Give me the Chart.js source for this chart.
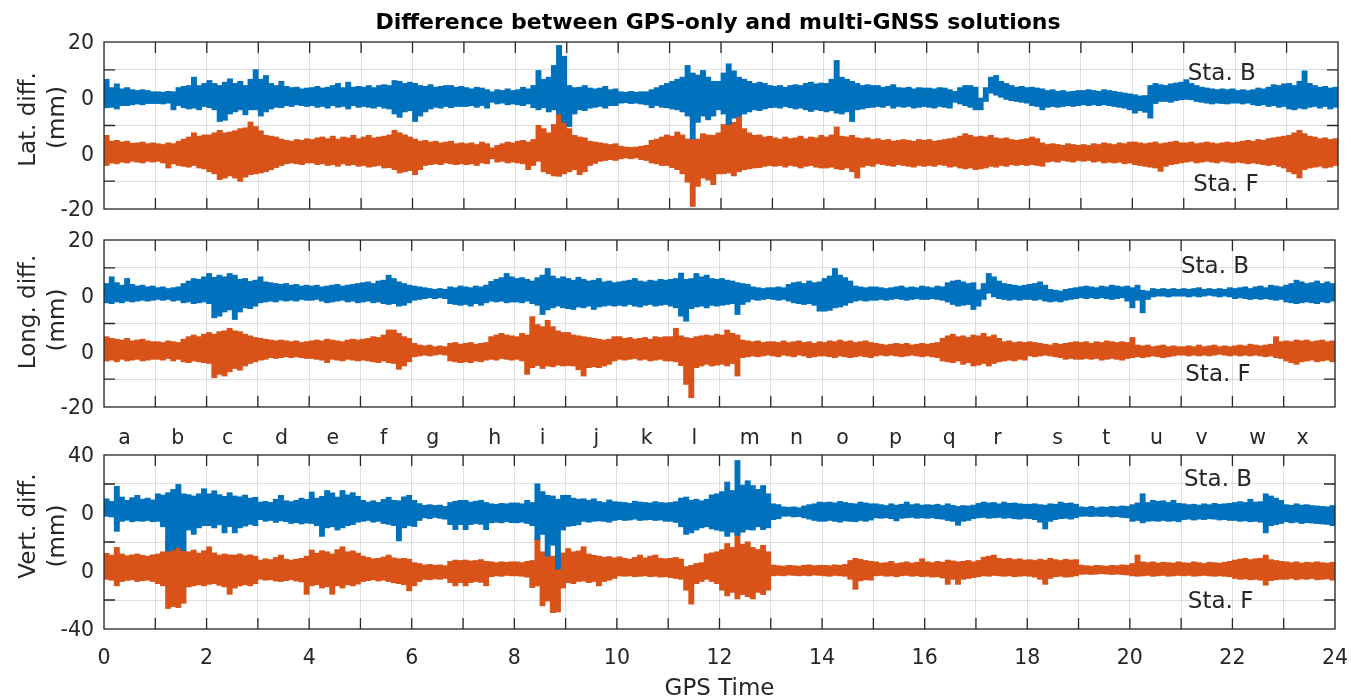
<!DOCTYPE html>
<html><head><meta charset="utf-8">
<script src="https://cdn.jsdelivr.net/npm/chart.js@4.4.1/dist/chart.umd.min.js"></script>
<style>
html,body{margin:0;padding:0;background:#fff;width:1351px;height:699px;overflow:hidden;position:relative}
canvas{position:absolute;left:0}
</style></head><body>
<canvas id="c1" width="1351" height="230" style="top:0px;width:1351px;height:230px"></canvas>
<canvas id="c2" width="1351" height="235" style="top:220px;width:1351px;height:235px"></canvas>
<canvas id="c3" width="1351" height="259" style="top:440px;width:1351px;height:259px"></canvas>
<script>
// ---------------- DATA (mm, upper / lower envelope per 0.1 h bin, hours 0..24) ----------------
const binHours = 0.1;
const letters = ['a','b','c','d','e','f','g','h','i','j','k','l','m','n','o','p','q','r','s','t','u','v','w','x'];
const letterPos = [0.40,1.44,2.41,3.46,4.46,5.45,6.41,7.62,8.55,9.60,10.58,11.51,12.59,13.50,14.40,15.43,16.48,17.42,18.59,19.54,20.52,21.40,22.49,23.37];
const xTickLabels = ['0','2','4','6','8','10','12','14','16','18','20','22','24'];
const latTickLabels = ['20','0','0','-20'];
const lonTickLabels = ['20','0','0','-20'];
const vertTickLabels = ['40','0','0','-40'];

const latB_hi = [
4.5,2.5,3.4,2.2,2.5,2,1.8,2,1.8,1.5,
1.5,1.4,1.6,1.5,2.5,2.8,3,5,3,3.5,
4.2,3.5,3,3.8,4.6,3.5,4,3,4.5,6.8,
4.5,5.4,3.5,3,4,2.8,2.5,2.6,2.2,2.4,
2.5,2.8,2.4,2.6,3,3.5,2.5,3.8,2.6,2.8,
2.6,3,2.5,3,3.2,3,4.2,4,3.5,3.8,
3.5,3,2.8,3.2,2.6,2.8,3,3,2.6,2.8,
2.5,2.2,2.6,2.4,2,1.5,2,1.8,2.2,1.8,
2,2.6,2.2,3,6.6,4.5,5,7.8,12.6,10,
3,2.5,2.6,3,2.4,2.2,2.4,2.8,2,2.2,
1.5,1.4,1.6,1.4,1.5,1.5,2,2.5,3,3.5,
4,4.5,5,7.8,6,5.5,6.6,5,4,4,
6,8.2,6.5,5,4.5,4,3.5,3.8,3.5,3,
2.8,3,2.6,3,3.2,3,3.5,3.8,3.4,3.6,
3.5,4.5,9,5,4.5,4,3.5,3,3.2,3,
3,2.6,2.8,3.2,2.5,2.4,2.6,2.2,2.5,2.4,
2.4,2.2,2.5,2.4,2,1.6,2.5,3,3,2.6,
0,2.5,5,5.4,4,3.5,3,2.6,2.8,2.5,
2.6,2.4,2.2,1.8,2,1.6,1.8,1.5,1.6,1.8,
1.8,2,1.8,1.6,2,1.8,1.6,1.4,1.2,1,
0.8,0.5,0.6,3,3.5,3.2,3,3.4,3.6,3.8,
4.4,3.5,3,2.6,2.4,2.2,2,2.2,2,2.2,
1.8,2,1.8,2,2.4,2.2,2.6,3.2,3,3.4,
3.5,3,4,6.5,3.5,3,2.6,2.8,2.4,2.6];
const latB_lo = [
-2.5,-2.4,-2.8,-2,-2,-1.8,-1.6,-1.8,-1.5,-1.5,
-1.5,-1.6,-1.4,-3,-2,-2.5,-2.8,-2.6,-3,-2.2,
-2.5,-3,-5.8,-5.5,-4,-3.5,-3,-4.2,-3,-3,
-4.5,-3.5,-2.8,-2.4,-2.5,-2,-2.2,-1.8,-2,-2.2,
-2,-2.4,-2.2,-2.6,-2,-2.4,-2.2,-2.8,-2,-2.4,
-2.2,-2.4,-2.6,-2.2,-2.6,-2.8,-4,-4.8,-3.5,-3.2,
-5.8,-4.5,-3.5,-2.8,-2.4,-2.6,-2.2,-2.5,-2.2,-2.2,
-2.2,-2,-2.4,-2,-2.6,-1.2,-1.6,-1.4,-1.8,-1.6,
-1.8,-2,-1.6,-2.5,-3,-2.5,-3.5,-3,-4,-6,
-7,-4,-3,-3.2,-2.6,-2.4,-2.2,-2.6,-2,-2,
-1.4,-1.3,-1.5,-1.4,-1.6,-1.8,-2.5,-2,-2.4,-2.5,
-2.8,-3,-3.5,-4.5,-10,-6,-4.5,-5.4,-4.5,-3,
-4,-6.5,-5,-4.5,-4,-3.5,-3,-3.2,-2.8,-2.5,
-2.4,-2.6,-2.2,-2.5,-2.8,-2.6,-3,-3.4,-3,-3.2,
-3.5,-3.2,-3.8,-4,-3.5,-5.8,-3,-2.8,-2.5,-2.4,
-2.2,-2.4,-2,-2.6,-2.2,-2.4,-2.2,-2.6,-2.4,-2.2,
-2.4,-2.6,-2.2,-2.4,-2.6,-1.2,-1.6,-2,-2.4,-3,
-3,-1,1,0.5,0,-0.5,-0.8,-1,-1.2,-1.4,
-2,-2.2,-3,-2.4,-2.2,-2.4,-2.2,-2,-2.2,-2,
-1.8,-2,-1.8,-2,-1.8,-2,-2.2,-2.4,-2.6,-3,
-3.8,-3.2,-3.6,-5,-1.5,-1,-1,-1.2,-0.8,-0.6,
-0.5,-0.6,-1,-1.2,-1.4,-1.6,-1.4,-1.5,-1.6,-1.4,
-1.4,-1.6,-1.4,-1.8,-2,-1.8,-2.2,-2,-2.4,-2.2,
-2.8,-3,-2.6,-2.8,-2.4,-2.2,-2.6,-2.2,-2.8,-2.4];
const latF_hi = [
4.4,3,3.2,2.8,3,2.5,2.6,2.8,2.4,2.6,
2.4,2.2,2.6,2.4,3,3.5,4,5,4.2,4.5,
4.5,5,5.6,5,5.2,5.5,6,6.2,7.6,6.5,
5.5,4.4,4.2,4,3.5,3.2,3,3.4,3.2,3.6,
3.4,3.8,4,3.6,4.2,3.5,4,3.8,4.4,3.6,
4,4.4,3.8,4,4.2,4.5,5.6,5,4.5,4,
3.5,3,3.2,2.8,3,2.6,2.8,3,2.4,2.6,
2.4,2.6,2.2,2.8,2.4,1.4,2,2.4,2.8,2.6,
3,3.2,2.8,3.4,6.8,6,5,7,10.4,9,
6,4.4,4,3.8,3,2.8,2.6,2.4,2.2,2.4,
1.8,1.6,1.5,1.6,1.8,2,3.2,3.5,4,4.5,
4.2,5.2,4.5,3.5,3.4,3.5,4.8,4.5,4.4,5,
7,9.2,7.5,9.2,6,5,4.4,4.5,4,4.2,
3.8,3.5,4,3.6,3.8,4.2,3.6,4,3.8,4.4,
4,4.5,6.4,4.2,4,4.4,3.8,3.6,3.8,3.4,
3.6,3.2,3.4,3,3.2,3.4,3.2,3,3.4,3.2,
3.4,3,3.2,3.4,3.6,3.8,4.2,4.8,4.4,4,
4.2,4,4.4,3.8,3.6,3.8,3.4,3.2,3.4,3.6,
4,3.6,2.6,2.2,2.4,2.2,2,2.4,2.2,2,
2.2,2,2.4,2.2,2.6,2.4,2.2,2.6,2.4,2.8,
2.8,2.6,2.4,2.6,2.8,2.4,2.6,2.8,3,2.6,
2.6,2.8,2.4,2.6,2.8,2.6,2.4,2.6,2.8,2.6,
2.8,3,3.2,3,3.4,3.2,3.6,3.8,4,4.2,
4.4,5,5.6,4.8,4.2,4,3.6,3.8,3.4,3.6];
const latF_lo = [
-3,-2.4,-2.6,-2.2,-2.4,-2,-2.2,-2.4,-2,-2.2,
-2,-2.4,-3.6,-2.6,-3,-3.2,-3.4,-3,-3.6,-3.8,
-4.5,-5,-6.4,-6,-5.5,-6,-6.8,-5.8,-5.2,-5,
-4.8,-4.5,-4,-3.5,-3,-2.6,-2.4,-2.6,-2.8,-2.4,
-2.4,-2.8,-2.6,-3,-2.8,-3.2,-2.6,-3,-2.8,-3.2,
-3,-3.4,-3.2,-3,-3.6,-3.5,-4,-4.8,-4.5,-4.2,
-5.2,-4,-3,-2.8,-2.6,-2.8,-2.4,-2.6,-2.8,-2.6,
-2.8,-2.6,-3,-2.4,-2.6,-1.4,-2.2,-2,-2.4,-2.2,
-2.4,-2.6,-4,-3,-2,-4.5,-5,-5.5,-5.6,-5,
-4.5,-4,-5.2,-4.5,-3,-2.5,-2,-1.8,-1.6,-1.8,
-1.4,-1.2,-1.4,-1.2,-1.6,-1.8,-2.4,-2.6,-3,-3,
-3.5,-4,-5,-7,-12.8,-8,-6,-6.5,-7.6,-5,
-5,-4.8,-5.5,-4.5,-4,-3.8,-3.6,-3.5,-3.2,-3,
-3.2,-3,-3.4,-3,-3.2,-3.6,-3.2,-3,-3.4,-3.6,
-3.6,-3.4,-3.8,-4,-3.6,-4.5,-6,-3.4,-3,-3.2,
-2.6,-2.8,-3,-3.2,-2.8,-3,-3.2,-3.4,-3,-3.2,
-3,-3.2,-2.8,-3,-3.4,-3.2,-3.6,-3.8,-3.6,-4,
-3.8,-3.6,-3.2,-3.4,-3,-3.2,-2.8,-3,-2.8,-3,
-2.8,-3,-3.2,-2.2,-2,-2.2,-1.8,-2,-2.2,-1.8,
-2,-1.8,-2.2,-2,-2.4,-2.2,-2.4,-2.2,-2.6,-2.4,
-2.8,-3,-3.2,-3.4,-3.6,-4.4,-3.2,-2.8,-2.6,-2.4,
-2.2,-2,-2.4,-2.2,-2,-2.2,-2.4,-2,-2.2,-2.4,
-2.2,-2.4,-2.6,-2.4,-2.6,-2.8,-3,-2.8,-3.2,-3.6,
-4.5,-5,-6,-4,-3.6,-3.4,-3.2,-3.6,-3.4,-3];

const lonB_hi = [
3,4.6,3.2,2.6,4.2,2.8,2.4,2.6,2.2,2.4,
2,2.2,1.8,2,2.2,3,3.6,4.2,4,4.6,
5.4,4.5,5,4.6,5.4,5,4,4.2,3.5,3.8,
4.6,3.4,3.2,3,2.8,3,2.6,2.8,2.4,2.6,
2.4,2.6,2.2,2.4,2.6,2.8,2.4,2.6,2.8,3,
3.2,3.4,3,3.6,3.8,5,4.2,3.4,3,2.6,
2.4,2.2,2,1.8,1.6,1.8,1.6,2.2,2,2.4,
2.2,2,2.4,2.2,2.6,3.5,4,4.4,5.4,4.6,
4.2,4.4,4,3.6,4.4,5,6.6,4.8,4.2,4.6,
4.2,3.8,4.5,4,3.6,3.8,4.2,3.4,3.6,3.2,
3.4,3.6,3.8,4.2,3.6,3.4,3.8,3.6,4,3.8,
4,4.2,5.5,4,4.2,5.4,4.6,5,4.2,4,
4.2,3.8,3.6,3.2,3,2.8,2.2,2,1.8,2,
2,2.2,2,2.8,3.2,3.4,3,3.6,3.2,3.4,
4.2,4.8,6.6,5,4.4,3.6,2.4,2.2,2,2.2,
2.2,2,1.8,2,2.2,2.4,2,2.2,2,2.4,
2.2,2,2.4,2.2,3.2,3.6,3.8,3.4,3,3.2,
1.5,3,5.4,4.6,3.6,3,2.8,2.6,2.4,2.6,
2.8,3,3.4,2.6,1.6,1.4,1.2,1.6,1.8,2,
2.2,2.4,2.2,2,2.4,2.2,2.6,2.4,2.2,2.4,
2,2.6,1.4,1.2,1.8,1.6,1.8,1.6,1.8,1.6,
1.8,1.6,1.8,2,1.6,1.8,1.6,1.8,1.6,2,
1.8,2,2.2,1.8,2.2,2.4,2,2.6,2.4,2.2,
2.6,3,3.8,3.4,3,3.2,3.6,3,3.4,3];
const lonB_lo = [
-1.8,-2,-1.6,-1.8,-1.4,-1.6,-1.4,-1.2,-1.4,-1.2,
-1,-1.2,-1,-1.4,-1.2,-1.8,-1.6,-2,-1.8,-1.6,
-2,-5.4,-5,-4,-3.5,-5.8,-4,-3,-3.2,-2.6,
-1.8,-1.6,-1.4,-1.6,-1.2,-1.4,-1.2,-1.4,-1,-1.2,
-1.2,-1,-1.4,-1.8,-1.6,-1.4,-1.2,-1.6,-1.4,-1.8,
-1.6,-1.4,-1.8,-1.6,-2,-2.2,-2,-2.6,-2.4,-1.8,
-1.2,-1,-0.8,-0.6,-0.8,-0.6,-0.8,-2,-2.2,-2.4,
-2.2,-2.6,-2,-2.4,-1.8,-1.4,-1.6,-1.4,-1.8,-1.6,
-1.6,-1.8,-1.4,-2,-2.4,-4.6,-3.5,-3,-2.6,-3,
-3.2,-3.4,-2.8,-3,-2.6,-3.4,-2.8,-2.6,-2.4,-2.6,
-2.4,-2.6,-2.2,-2.6,-2.8,-2.4,-2.2,-2.6,-2.4,-2.2,
-2.6,-3,-5,-6.2,-3.2,-2.8,-2.6,-3,-2.4,-2.6,
-2.4,-2.2,-2,-4.6,-2.2,-1.6,-1,-1.2,-1,-0.8,
-1,-1.2,-1,-1.4,-1.8,-2,-2.2,-2,-2.4,-3.8,
-3.8,-3.6,-3,-2.8,-2.4,-1.8,-1.4,-1.2,-1.4,-1.2,
-1.2,-1,-1.2,-1,-0.8,-1,-1.2,-1,-0.8,-1,
-1,-0.8,-1,-1.2,-1.6,-2.2,-2.6,-2.4,-2.2,-3.4,
-2.6,-1,0.5,-0.4,-0.8,-1,-1.2,-1,-1.2,-1,
-1,-1.2,-1,-1.4,-1.6,-1.4,-1.6,-1.2,-1,-0.8,
-0.6,-0.8,-0.6,-0.8,-0.6,-0.8,-1,-0.8,-0.6,-1.4,
-3,-1.2,-4.2,-1,-0.4,-0.2,-0.2,-0.4,-0.2,-0.2,
-0.2,-0.4,-0.2,-0.4,-0.2,0,-0.2,-0.4,-0.2,-0.4,
-0.8,-0.6,-0.8,-1,-0.8,-1,-0.8,-1,-1.2,-1,
-1.6,-1.8,-2,-1.8,-1.6,-1.8,-2,-1.6,-1.8,-1.4];
const lonF_hi = [
3.6,3.2,3,2.8,3.2,2.6,2.8,3,2.6,2.4,
2.4,2.2,2.6,2.4,2.2,3,3.6,4,3.6,4.2,
4.6,4.2,4.8,5,5.6,5,4.8,4.2,3.8,3.4,
3.2,3,2.8,2.6,2.8,2.6,2.4,2.6,2.2,2.4,
2.6,2.8,2.6,3,2.8,2.6,2.4,2.8,3,2.8,
3,3.2,3.6,3.4,4,5.2,5.2,4.4,3.6,3.2,
2,1.6,1.4,1.6,1.2,1.4,1.2,2,2.2,1.8,
2,2.2,1.8,2,2.2,3.6,4,4.4,4,3.8,
3.6,4.4,4,8.4,6.5,6,7.5,6,5,4.6,
4.6,4,3.8,3.6,3.4,3.2,3,2.8,3,3.6,
3.6,3.2,3.4,3,3.2,3.4,3,3.6,3.4,3.6,
3.6,5.6,3.8,3.4,3.2,3.6,3.8,4,3.8,4.2,
4,5.2,4.4,4,2.8,2.6,2.4,2.6,2.2,2.4,
2.4,2.2,2.6,2.2,2.4,2.6,2.2,2.4,2,2.4,
2.2,2.6,2.4,2.8,2.4,2.6,2.2,2.4,2.6,2.2,
2,1.8,1.6,1.8,2,1.8,2,1.6,1.8,2,
1.8,2,2.2,3.2,3.8,4.2,3.6,3.8,3.4,4,
3.8,4.4,3.6,4,3.2,2.4,2.6,2.2,2.4,2.2,
2.4,2.2,2,1.8,1.6,2,1.8,2,2.2,2.4,
2.2,2.4,2,2.4,2.2,2.6,2.4,2.2,2.4,2.2,
3.4,1.6,1.4,1.6,1.2,1.4,1.6,1.2,1.4,1.2,
1.2,1.4,1.2,1.6,1.2,1.4,1.6,1.2,1.4,1.2,
1.4,1.6,1.4,1.8,1.6,1.4,1.6,1.8,3.6,2.4,
2.6,2.4,2.8,2.6,2.8,2.4,2.6,2.8,2.4,2.6];
const lonF_lo = [
-2.4,-2.2,-2.6,-2,-2.4,-2.2,-2,-2.4,-2.2,-2,
-2,-2.2,-1.8,-2.4,-2,-2.6,-2.8,-2.4,-2.6,-2.8,
-3,-6.4,-5.6,-6,-5,-4.2,-4.6,-3.6,-3,-2.6,
-2.2,-2,-1.6,-1.8,-1.6,-1.4,-1.6,-1.4,-1.6,-1.8,
-1.8,-2,-2.2,-2.8,-2,-2.2,-2.4,-2,-2.2,-2.4,
-2.2,-2.4,-2.6,-2.8,-2.4,-2.8,-3,-4.4,-3.6,-2.6,
-1.4,-1.2,-1,-1.2,-1,-0.8,-1,-2.4,-2.6,-2.8,
-2.6,-2.8,-2.4,-2.6,-2.2,-2,-2.2,-1.8,-2,-2.2,
-2,-2.4,-5.6,-4,-3.5,-4.2,-3.6,-3.8,-3.4,-3.6,
-3.5,-3.6,-4.5,-6,-4,-3.8,-4,-3.6,-3.2,-2.4,
-2,-2.2,-2,-1.8,-2.2,-2,-2.4,-2.2,-2,-2.4,
-2.4,-2.6,-3.5,-8,-11.2,-4,-3.6,-3.2,-3.6,-3.4,
-3.2,-3.6,-3,-6,-1.6,-1.4,-1.2,-1.4,-1.2,-1,
-1.2,-1.4,-1,-1.2,-1.4,-1,-1.2,-1.6,-1.4,-1.2,
-1.2,-1.4,-1.6,-1.2,-1.4,-1.6,-1.4,-1.2,-1.4,-1.6,
-1.2,-1,-1.2,-1,-1.2,-1.4,-1.2,-1,-1.2,-1.4,
-1.2,-1.4,-1.6,-2.4,-2.6,-2.8,-2.4,-3.2,-2.8,-3.6,
-3.4,-3,-3.6,-3,-2.6,-2.4,-2.2,-2.4,-2,-2.2,
-1.2,-1.4,-1.2,-1,-1.2,-1.4,-1.6,-2,-1.8,-2,
-2,-1.8,-2,-1.8,-2.2,-2,-1.8,-2,-2.2,-1.8,
-1.6,-1.4,-1.6,-1.4,-1.2,-1.4,-1.6,-1.4,-1.2,-1,
-1,-1.2,-1,-1.2,-1,-1.2,-1,-0.8,-1,-1.2,
-1,-1.2,-1,-1.2,-1,-1.2,-1.4,-1.2,-1.6,-1.8,
-2.4,-2.8,-3.2,-2.6,-2.4,-2.2,-2.6,-2.4,-2.2,-2.6];

const vertB_hi = [
6.7,5.5,12.4,7.5,6,7.2,8.3,6.5,7,6.2,
9,8.4,9.5,11,13.3,9,8.6,8,9,11.3,
9,10.4,8.6,7.8,9.5,8,7.6,8.4,7,7.4,
5.2,5.5,5,6.5,8.3,5.8,5.4,6,7,6.4,
9.8,7,7.8,10.5,9.4,7.5,10.5,8.5,9.5,7.8,
6,5.2,5.8,5,6.4,7.4,6,5.8,7.6,8.3,
6,4.5,3.7,4,3.6,3.8,3.2,5,5.6,6,
6,5.2,5.6,6,5,4.4,4.2,4.6,4.4,4.8,
4.8,4.4,6,5,13.6,10,8.3,8,6.5,8.3,
8.3,7,6.5,6.7,6,6.7,5.5,5,6.2,5.4,
5.2,5,4.6,5.6,5.2,5,4.8,5.4,5,4.8,
5,5.4,7,7.5,6,6.5,5.8,6.5,8.5,9,
10,14.4,10.5,24.3,13,15,12.8,11,12.8,9,
4.4,4,3,2.8,3,2.6,3.4,4,4.4,5.2,
5,5.2,4.8,5.5,5,4.6,4.4,5.2,4.8,4.4,
4.4,4,3.6,4.4,3.8,4.2,5.2,4,4.4,3.8,
4,3.8,4.2,3.6,4.4,3.7,3.2,3.6,3.4,3.8,
4.6,5.2,4.8,5,4.4,5.2,4.6,4.8,4.4,4.2,
4.2,4.4,4,3.8,4.4,4.2,5.2,4.6,4.8,4.2,
3,2.8,3.2,2.6,3,2.8,3.2,3,3.4,3.2,
4,4.8,9,5,6,5.5,5.8,5,6,4.6,
4.4,4,4.2,3.8,4.4,4,4.6,4.2,4.4,4.6,
5,5.4,5,6.5,5.2,5.4,9,8,7,6,
4,3.7,4.4,3.8,4,3.6,3.4,3.2,3,3.6];
const vertB_lo = [
-1.7,-2,-8.6,-4,-3.5,-4.2,-3.8,-4,-3.6,-4.2,
-4,-6.5,-17.7,-17,-16,-17.5,-8,-10,-7,-6,
-6,-7,-5.6,-9.3,-6.4,-9.3,-7,-6.2,-5.4,-6,
-3.2,-4,-3.6,-4.5,-3.8,-4.2,-5,-4.6,-5.2,-4.8,
-5,-6,-10.9,-7,-6.5,-8,-7,-6,-5.5,-4.4,
-4,-3.6,-4.4,-4,-5,-5.4,-6,-13,-7,-6,
-6.4,-3.6,-2.4,-2.8,-2.2,-2.6,-3,-5.5,-7.8,-5.5,
-7.8,-5.5,-5,-5.4,-7.8,-4.7,-4.4,-4.7,-4.2,-4.6,
-4.7,-4.4,-5,-6,-12.4,-10,-20,-15,-26,-8,
-6.3,-6,-5.6,-4,-4.4,-4,-3.8,-4,-4.4,-3.6,
-3.2,-3.6,-3.4,-3,-3.6,-3.4,-3.2,-3.6,-3.4,-4,
-4,-4.5,-6.5,-10,-9.3,-8,-7,-6.5,-7.5,-8,
-8.5,-10.9,-9,-10.5,-9,-7.8,-8,-6.5,-7.8,-7,
-3.2,-2.8,-1.7,-1.6,-2,-1.8,-2.4,-3,-3.6,-4,
-4,-3.6,-4,-4.4,-3.8,-4,-4.2,-3.6,-4,-3.4,
-2.4,-2.6,-2.4,-2.8,-3.8,-2.6,-2.4,-2.2,-2.6,-2.4,
-2.6,-2.4,-2.8,-3,-3.6,-4,-5.8,-4,-3.6,-2.8,
-2.4,-2.2,-2.6,-2.4,-2.2,-2.6,-2.4,-2.8,-3,-2.6,
-2.8,-3.2,-4.4,-7.5,-4,-3.2,-2.8,-2.6,-3,-2.4,
-1.7,-1.6,-1.8,-1.6,-1.8,-1.6,-2,-1.8,-2.2,-2.4,
-4,-3.6,-4.7,-4,-3.8,-4,-3.6,-4,-3.8,-4.2,
-3.2,-3,-3.4,-3,-3.2,-2.8,-3,-3.4,-3.2,-3.6,
-3.6,-4,-3.8,-4.2,-4,-4.4,-9.3,-6,-5.5,-5,
-4.2,-4.7,-4.4,-5,-4.6,-4.8,-5,-5.2,-5.4,-6];
const vertF_hi = [
8.3,7.5,11,8,7.2,7.6,8,7.4,7,7.6,
8,9,14.2,13,14.7,10,9,9.8,8.4,9.5,
11.3,8.5,7.5,8,7.6,7.5,8,7.2,7.6,7,
5.2,5.8,5.4,6.4,7.5,5.6,5.2,5.6,6,7,
9.8,8.4,9.5,9,8,10,11.3,9,9.4,8.4,
7,6.4,5.8,6,6.6,7.5,6.2,5.8,6,5.6,
4,3.6,2.9,3.2,2.8,3,2.6,4.6,5.2,5,
5.2,4.8,5,5.4,4.6,4.4,4,4.4,4.2,4.4,
4.4,4,4.6,5,15.1,9,7.5,7,8,8.5,
10.5,9,9.4,11.3,8,7.4,7,6.5,6.8,6.2,
6.7,6,5.6,6.4,7.5,6.2,7,7.5,6,5.8,
6,6.4,5.6,2.2,2.8,3.6,4,8,8.5,9,
10,12.8,11,19.7,12.5,13.6,11,10,12,9,
2.9,2.6,2.4,2.8,2.6,2.4,2.8,3,2.6,2.8,
2.8,2.6,3,2.8,3.2,5,6,5.5,5,4.6,
4.4,3.8,4,4.6,3.6,4,4.4,3.8,4.2,5.8,
4.4,4,4.6,4.2,5.2,4.8,4.4,4.6,5,4.4,
5,6.5,7,7.5,6,5.6,6,5.4,5.8,5.2,
5.4,5,5.6,5.2,6,5.4,5,5.6,5.2,5.4,
2.9,2.6,2.4,2.8,2.6,2.4,2.8,2.6,3,2.8,
3.6,7.5,4.4,4,4.4,3.8,4.2,4,3.8,4.4,
4,3.8,4.4,4,3.6,4.2,4,3.8,4.2,4.6,
5.2,5.6,6,5.4,5.8,6,7.5,5.4,5,4.6,
4.4,4,4.4,3.8,4.2,4,4.4,4,3.8,4.2];
const vertF_lo = [
-4,-4.4,-7,-5,-4.5,-4.2,-5,-4.6,-4.4,-5,
-6,-7,-17.4,-16.5,-17,-15,-7.5,-7,-6.5,-7,
-6.3,-6,-6.8,-7.5,-10.9,-8,-7,-6.5,-7,-6,
-4,-4.4,-4.2,-4.8,-5,-4.6,-4.2,-4.8,-5.2,-10.9,
-7,-6.5,-8,-7.4,-10.9,-7,-8,-6.5,-7,-6.2,
-5,-4.6,-4.2,-4.8,-4.4,-5,-5.6,-6,-6.5,-9.3,
-7,-5,-4,-4.2,-3.8,-4,-3.6,-5.5,-7,-5.5,
-7,-5.5,-5,-5.4,-7,-2.8,-2.4,-2.6,-2.2,-2.4,
-2.4,-2.6,-3,-7.8,-7,-16.2,-14,-19.3,-19,-8,
-5.5,-6,-5,-4.8,-5.5,-5,-7,-5,-4.4,-3.6,
-2.4,-2.6,-2.4,-2.8,-2.6,-2.4,-2.8,-2.6,-3,-2.8,
-3.2,-3.6,-4,-9,-15.4,-6,-5,-4,-5,-6,
-9,-11.6,-10,-13,-11,-12,-13,-10,-11,-9,
-2.4,-2.2,-2.4,-2,-2.2,-2.4,-2.2,-2.4,-2,-2.2,
-2.4,-2.6,-2.2,-2.4,-2.6,-4,-8.6,-4.7,-4.2,-4.4,
-2.4,-2.2,-2.6,-2.4,-2.8,-2.4,-2.2,-2.6,-2.4,-2.8,
-2.6,-3,-2.8,-3.4,-6.3,-4,-6.3,-4,-3.6,-3.2,
-2.8,-2.4,-2.6,-2.2,-2.4,-2.6,-2.4,-2.8,-2.6,-2.4,
-2.6,-3,-4,-6.3,-3.6,-2.8,-2.6,-3,-2.8,-2.4,
-1.7,-1.6,-1.8,-1.6,-1.4,-1.6,-1.8,-1.6,-1.8,-2,
-2.4,-2.6,-2.4,-2.2,-2.6,-2.4,-2.2,-2.6,-2.4,-2.2,
-2.4,-2.2,-2.6,-2.4,-2.2,-2.4,-2.6,-2.4,-2.6,-2.8,
-3.6,-4,-3.8,-4.2,-4,-4.4,-6.7,-4.6,-4.2,-4,
-4,-3.6,-4.2,-3.8,-4,-3.6,-4.2,-4,-3.8,-4.4];

// ---------------- STYLE ----------------
const FONT = '"DejaVu Sans", Verdana, sans-serif';
const BLUE = '#0072BD', ORANGE = '#D95319';
const TEXT = '#262626', AXIS = '#262626', GRID = 'rgba(38,38,38,0.15)';
const TICK_LEN = 11;
const TEXT_DY = 1.5; // 'middle' baseline sits slightly high for DejaVu

function band(hi, lo, offset) {
  return hi.map((h, i) => ({ x: (i + 0.5) * binHours, y: [lo[i] + offset, h + offset] }));
}
function near(a, b) { return Math.abs(a - b) < 1e-6; }

const panels = [
  { canvas: 'c1', B: [latB_hi, latB_lo], F: [latF_hi, latF_lo], range: 20, yLabels: latTickLabels,
    yTitle: ['Lat. diff.', '(mm)'], yTitleDy: [-6, -8], padTop: 42, padRight: 13, xHeight: 21, showX: false,
    staB: [21.74, 12.6], staF: [21.82, -14.0], kind: 'top' },
  { canvas: 'c2', B: [lonB_hi, lonB_lo], F: [lonF_hi, lonF_lo], range: 20, yLabels: lonTickLabels,
    yTitle: ['Long. diff.', '(mm)'], yTitleDy: [-11.5, -3.5], padTop: 20, padRight: 16, xHeight: 48, showX: false,
    staB: [21.66, 14.0], staF: [21.72, -11.9], kind: 'mid' },
  { canvas: 'c3', B: [vertB_hi, vertB_lo], F: [vertF_hi, vertF_lo], range: 40, yLabels: vertTickLabels,
    yTitle: ['Vert. diff.', '(mm)'], yTitleDy: [-16, -6], padTop: 15, padRight: 16, xHeight: 70, showX: true,
    staB: [21.72, 29.4], staF: [21.77, -26.7], kind: 'bottom' }
];

function decoPlugin(p) {
  const R = p.range;
  return {
    id: 'deco_' + p.canvas,
    afterDatasetsDraw(chart) {
      const { ctx, chartArea: a, scales: { x, y } } = chart;
      ctx.save();
      ctx.strokeStyle = AXIS; ctx.lineWidth = 1.3;
      ctx.beginPath();
      for (let h = 1; h < 24; h++) {
        const px = x.getPixelForValue(h);
        ctx.moveTo(px, a.top); ctx.lineTo(px, a.top + TICK_LEN);
        ctx.moveTo(px, a.bottom); ctx.lineTo(px, a.bottom - TICK_LEN);
      }
      for (const v of [2 * R / 3, 0, -2 * R / 3]) {
        const py = y.getPixelForValue(v);
        ctx.moveTo(a.left, py); ctx.lineTo(a.left + TICK_LEN, py);
        ctx.moveTo(a.right, py); ctx.lineTo(a.right - TICK_LEN, py);
      }
      ctx.stroke();
      ctx.strokeRect(a.left, a.top, a.right - a.left, a.bottom - a.top);
      ctx.fillStyle = TEXT;
      ctx.font = '23px ' + FONT;
      ctx.textAlign = 'center'; ctx.textBaseline = 'middle';
      ctx.fillText('Sta. B', x.getPixelForValue(p.staB[0]), y.getPixelForValue(p.staB[1]) + TEXT_DY);
      ctx.fillText('Sta. F', x.getPixelForValue(p.staF[0]), y.getPixelForValue(p.staF[1]) + TEXT_DY);
      const cy = (a.top + a.bottom) / 2;
      const xs = [29, 58];
      for (let k = 0; k < 2; k++) {
        ctx.save();
        ctx.translate(xs[k], cy + p.yTitleDy[k]);
        ctx.rotate(-Math.PI / 2);
        ctx.fillText(p.yTitle[k], 0, 0);
        ctx.restore();
      }
      if (p.kind === 'top') {
        ctx.fillStyle = '#000';
        ctx.font = 'bold 22px ' + FONT;
        ctx.fillText('Difference between GPS-only and multi-GNSS solutions', 718, 22 + TEXT_DY);
      }
      if (p.kind === 'mid') {
        ctx.font = '20.5px ' + FONT;
        letters.forEach((l, i) => ctx.fillText(l, x.getPixelForValue(letterPos[i]), a.bottom + 30 + TEXT_DY));
      }
      if (p.kind === 'bottom') {
        ctx.font = '23px ' + FONT;
        ctx.fillText('GPS Time', (a.left + a.right) / 2, 248 + TEXT_DY);
      }
      ctx.restore();
    }
  };
}

function makeChart(p) {
  const R = p.range, off = R / 3;
  const yTicks = [-R, -2 * R / 3, -R / 3, 0, R / 3, 2 * R / 3, R];
  const yLabelFor = v => near(v, R) ? p.yLabels[0] : near(v, R / 3) ? p.yLabels[1] : near(v, -R / 3) ? p.yLabels[2] : near(v, -R) ? p.yLabels[3] : '';
  return new Chart(document.getElementById(p.canvas), {
    type: 'bar',
    data: {
      datasets: [
        { label: 'Sta. B', data: band(p.B[0], p.B[1], off), backgroundColor: BLUE },
        { label: 'Sta. F', data: band(p.F[0], p.F[1], -off), backgroundColor: ORANGE }
      ]
    },
    options: {
      responsive: false, animation: false, events: [],
      layout: { autoPadding: false, padding: { left: 0, right: p.padRight, top: p.padTop, bottom: 0 } },
      plugins: { legend: { display: false }, tooltip: { enabled: false }, title: { display: false } },
      datasets: { bar: { grouped: false, barPercentage: 1.15, categoryPercentage: 1, borderWidth: 0, borderSkipped: false } },
      scales: {
        x: {
          type: 'linear', min: 0, max: 24, offset: false,
          grid: { offset: false, color: GRID, lineWidth: 1, drawTicks: false },
          border: { display: false },
          afterBuildTicks: s => { s.ticks = Array.from({ length: 25 }, (_, h) => ({ value: h })); },
          ticks: {
            display: p.showX, autoSkip: false, maxRotation: 0, padding: 17,
            font: { family: FONT, size: 20.5 }, color: TEXT,
            callback: v => (v % 2 === 0 ? xTickLabels[v / 2] : '')
          },
          afterFit: s => { s.height = p.xHeight; s.paddingLeft = 0; s.paddingRight = 0; }
        },
        y: {
          min: -R, max: R,
          afterBuildTicks: s => { s.ticks = yTicks.map(v => ({ value: v })); },
          grid: { drawTicks: false, lineWidth: 1,
                  color: c => (near(c.tick.value, 0) || near(Math.abs(c.tick.value), 2 * R / 3)) ? GRID : 'rgba(0,0,0,0)' },
          border: { display: false },
          ticks: { autoSkip: false, padding: 10, labelOffset: 2, font: { family: FONT, size: 20.5 }, color: TEXT, callback: v => yLabelFor(v) },
          afterFit: s => { s.width = 104; s.paddingTop = 0; s.paddingBottom = 0; }
        }
      }
    },
    plugins: [decoPlugin(p)]
  });
}

panels.forEach(makeChart);
</script>
</body></html>
